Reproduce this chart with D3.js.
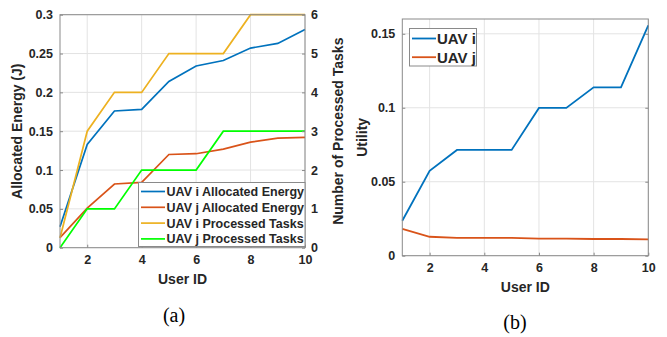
<!DOCTYPE html>
<html><head><meta charset="utf-8">
<script src="https://cdn.jsdelivr.net/npm/d3@7"></script>
<style>
body{margin:0;background:#fff;}
svg{display:block;}
text{font-family:"Liberation Sans",Arial,sans-serif;}
</style></head>
<body><svg id="c" width="667" height="337"></svg>
<script>
const userIds = [1,2,3,4,5,6,7,8,9,10];
const energyI = [0.027,0.133,0.176,0.178,0.214,0.234,0.241,0.257,0.263,0.281];
const energyJ = [0.013,0.051,0.082,0.084,0.120,0.121,0.127,0.136,0.141,0.142];
const tasksI = [0.25,3,4,4,5,5,5,6,6,6];
const tasksJ = [0,1,1,2,2,2,3,3,3,3];
const utilityI = [0.0236,0.0574,0.0715,0.0715,0.0715,0.0999,0.0999,0.1138,0.1138,0.1557];
const utilityJ = [0.0182,0.0128,0.0121,0.012,0.012,0.0115,0.0115,0.0113,0.0113,0.011];
const leftTicks = [0,0.05,0.1,0.15,0.2,0.25,0.3];
const rightTicks = [0,1,2,3,4,5,6];
const xTicks = [2,4,6,8,10];
const utilTicks = [0,0.05,0.1,0.15];
const legendA = ["UAV i Allocated Energy","UAV j Allocated Energy","UAV i Processed Tasks","UAV j Processed Tasks"];
const legendB = ["UAV i","UAV j"];
const colors = {blue:"#0072BD",orange:"#D95319",yellow:"#EDB120",green:"#00FF00"};

const svg = d3.select("#c");
const axisCol = "#8a8a8a", gridCol = "#e3e3e3", txtCol = "#262626";

function styleAxis(g){
  g.select(".domain").remove();
  g.selectAll(".tick line").attr("stroke",axisCol);
  g.selectAll(".tick text").attr("fill",txtCol).style("font-weight","bold").style("font-size","12.5px");
}

// ---------- Panel (a) ----------
const A = {l:60,r:305,t:14.7,b:247.7};
const xa = d3.scaleLinear().domain([1,10]).range([A.l,A.r]);
const ya = d3.scaleLinear().domain([0,0.3]).range([A.b,A.t]);
const ya2 = d3.scaleLinear().domain([0,6]).range([A.b,A.t]);
const ga = svg.append("g");
ga.selectAll("line.gx").data(xTicks).join("line").attr("x1",d=>xa(d)).attr("x2",d=>xa(d)).attr("y1",A.t).attr("y2",A.b).attr("stroke",gridCol);
ga.selectAll("line.gy").data(leftTicks).join("line").attr("class","gy").attr("y1",d=>ya(d)).attr("y2",d=>ya(d)).attr("x1",A.l).attr("x2",A.r).attr("stroke",gridCol);
const lineA = (vals,scale)=>d3.line().x((d,i)=>xa(userIds[i])).y(d=>scale(d))(vals);
[[energyI,ya,colors.blue],[energyJ,ya,colors.orange],[tasksI,ya2,colors.yellow],[tasksJ,ya2,colors.green]].forEach(([v,s,c])=>{
  ga.append("path").attr("d",lineA(v,s)).attr("fill","none").attr("stroke",c).attr("stroke-width",1.7);
});
ga.append("rect").attr("x",A.l).attr("y",A.t).attr("width",A.r-A.l).attr("height",A.b-A.t).attr("fill","none").attr("stroke",axisCol);
ga.append("g").attr("transform",`translate(0,${A.b})`).call(d3.axisBottom(xa).tickValues(xTicks).tickSize(-3).tickPadding(7).tickFormat(d3.format("d"))).call(styleAxis);
ga.append("g").attr("transform",`translate(${A.l},0)`).call(d3.axisLeft(ya).tickValues(leftTicks).tickSize(-3).tickPadding(7).tickFormat(d=>d3.format("")(+d.toFixed(2)))).call(styleAxis);
ga.append("g").attr("transform",`translate(${A.r},0)`).call(d3.axisRight(ya2).tickValues(rightTicks).tickSize(-3).tickPadding(6).tickFormat(d3.format("d"))).call(styleAxis);
ga.append("text").attr("transform",`translate(22,${(A.t+A.b)/2}) rotate(-90)`).attr("text-anchor","middle").attr("fill",txtCol).style("font-weight","bold").style("font-size","14px").text("Allocated Energy (J)");
ga.append("text").attr("transform",`translate(343,${(A.t+A.b)/2}) rotate(-90)`).attr("text-anchor","middle").attr("fill",txtCol).style("font-weight","bold").style("font-size","14px").text("Number of Processed Tasks");
ga.append("text").attr("x",(A.l+A.r)/2).attr("y",284).attr("text-anchor","middle").attr("fill",txtCol).style("font-weight","bold").style("font-size","14px").text("User ID");
ga.append("text").attr("x",174).attr("y",322).attr("text-anchor","middle").attr("fill","#000").style("font-family","'Liberation Serif','Times New Roman',serif").style("font-size","20px").text("(a)");
const lgA = ga.append("g");
lgA.append("rect").attr("x",138.5).attr("y",182.5).attr("width",A.r-138.5).attr("height",64).attr("fill","#fff").attr("stroke",axisCol);
const lcA=[colors.blue,colors.orange,colors.yellow,colors.green];
legendA.forEach((t,i)=>{
  const y=191.5+i*15.8;
  lgA.append("line").attr("x1",141).attr("x2",165).attr("y1",y).attr("y2",y).attr("stroke",lcA[i]).attr("stroke-width",1.7);
  lgA.append("text").attr("x",166.5).attr("y",y+4.5).attr("fill",txtCol).style("font-weight","bold").style("font-size","12.5px").text(t);
});

// ---------- Panel (b) ----------
const B = {l:402.3,r:648.3,t:19,b:255.7};
const xb = d3.scaleLinear().domain([1,10]).range([B.l,B.r]);
const yb = d3.scaleLinear().domain([0,0.16]).range([B.b,B.t]);
const gb = svg.append("g");
gb.selectAll("line.gx").data(xTicks).join("line").attr("x1",d=>xb(d)).attr("x2",d=>xb(d)).attr("y1",B.t).attr("y2",B.b).attr("stroke",gridCol);
gb.selectAll("line.gy").data(utilTicks).join("line").attr("class","gy").attr("y1",d=>yb(d)).attr("y2",d=>yb(d)).attr("x1",B.l).attr("x2",B.r).attr("stroke",gridCol);
const lineB = vals=>d3.line().x((d,i)=>xb(userIds[i])).y(d=>yb(d))(vals);
gb.append("path").attr("d",lineB(utilityI)).attr("fill","none").attr("stroke",colors.blue).attr("stroke-width",1.8);
gb.append("path").attr("d",lineB(utilityJ)).attr("fill","none").attr("stroke",colors.orange).attr("stroke-width",1.8);
gb.append("rect").attr("x",B.l).attr("y",B.t).attr("width",B.r-B.l).attr("height",B.b-B.t).attr("fill","none").attr("stroke",axisCol);
gb.append("g").attr("transform",`translate(0,${B.b})`).call(d3.axisBottom(xb).tickValues(xTicks).tickSize(-3).tickPadding(7).tickFormat(d3.format("d"))).call(styleAxis);
gb.append("g").attr("transform",`translate(${B.l},0)`).call(d3.axisLeft(yb).tickValues(utilTicks).tickSize(-3).tickPadding(7).tickFormat(d=>d3.format("")(+d.toFixed(2)))).call(styleAxis);
gb.append("g").attr("transform",`translate(${B.r},0)`).call(d3.axisRight(yb).tickValues(utilTicks).tickSize(-3).tickFormat("")).call(styleAxis);
gb.append("text").attr("transform",`translate(367,${(B.t+B.b)/2}) rotate(-90)`).attr("text-anchor","middle").attr("fill",txtCol).style("font-weight","bold").style("font-size","14px").text("Utility");
gb.append("text").attr("x",(B.l+B.r)/2).attr("y",292).attr("text-anchor","middle").attr("fill",txtCol).style("font-weight","bold").style("font-size","14px").text("User ID");
gb.append("text").attr("x",515).attr("y",329).attr("text-anchor","middle").attr("fill","#000").style("font-family","'Liberation Serif','Times New Roman',serif").style("font-size","20px").text("(b)");
const lgB = gb.append("g");
lgB.append("rect").attr("x",409.5).attr("y",28.5).attr("width",67).attr("height",37.5).attr("fill","#fff").attr("stroke",axisCol);
const lcB=[colors.blue,colors.orange];
legendB.forEach((t,i)=>{
  const y=38.5+i*18.7;
  lgB.append("line").attr("x1",412).attr("x2",436).attr("y1",y).attr("y2",y).attr("stroke",lcB[i]).attr("stroke-width",1.8);
  lgB.append("text").attr("x",437).attr("y",y+5.5).attr("fill",txtCol).style("font-weight","bold").style("font-size","15px").text(t);
});
</script></body></html>
